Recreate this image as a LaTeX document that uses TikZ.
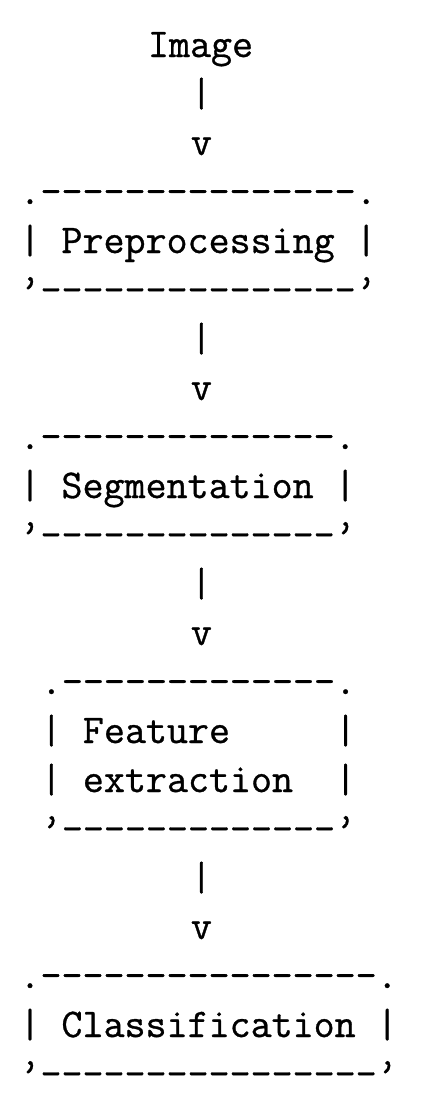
\documentclass[tikz,border=0pt]{standalone}
\usepackage{fontspec}
\setmonofont[FakeBold=0.8]{Latin Modern Mono}
\newlength{\du}
\setlength{\du}{0.5pt}
\newcommand{\boxfloor}[1]{’\smash{\raisebox{9.5pt}{#1}}’}
\tikzset{
  asciirow/.style={anchor=base west, inner sep=0pt, outer sep=0pt,
    font=\ttfamily\fontsize{20.4pt}{24.5pt}\selectfont},
}
\begin{document}
\begin{tikzpicture}
\pgftransformxscale{1.000000}
\pgftransformyscale{-1.000000}
\useasboundingbox (0\du,0\du) rectangle (422\du,1098\du);
% input
\node[asciirow] (image) at (148.0\du,57.0\du){Image};
\node[asciirow] (bar1) at (190.9\du,106.0\du){|};
\node[asciirow] (tip1) at (190.9\du,155.0\du){v};
% preprocessing box
\node[asciirow] (pretop) at (19.5\du,204.0\du){.---------------.};
\node[asciirow] (pre) at (19.5\du,253.0\du){| Preprocessing |};
\node[asciirow] (prebot) at (19.5\du,302.0\du){\boxfloor{\_\_\_\_\_\_\_\_\_\_\_\_\_\_\_}};
\node[asciirow] (bar2) at (190.9\du,351.0\du){|};
\node[asciirow] (tip2) at (190.9\du,400.0\du){v};
% segmentation box
\node[asciirow] (segtop) at (19.5\du,449.0\du){.--------------.};
\node[asciirow] (seg) at (19.5\du,498.0\du){| Segmentation |};
\node[asciirow] (segbot) at (19.5\du,547.0\du){\boxfloor{\_\_\_\_\_\_\_\_\_\_\_\_\_\_}};
\node[asciirow] (bar3) at (190.9\du,596.0\du){|};
\node[asciirow] (tip3) at (190.9\du,645.0\du){v};
% feature extraction box
\node[asciirow] (feattop) at (40.9\du,694.0\du){.-------------.};
\node[asciirow] (feat) at (40.9\du,743.0\du){|~Feature~~~~~|};
\node[asciirow] (extr) at (40.9\du,792.0\du){|~extraction~~|};
\node[asciirow] (featbot) at (40.9\du,841.0\du){\boxfloor{\_\_\_\_\_\_\_\_\_\_\_\_\_}};
\node[asciirow] (bar4) at (190.9\du,890.0\du){|};
\node[asciirow] (tip4) at (190.9\du,939.0\du){v};
% classification box
\node[asciirow] (clstop) at (19.5\du,988.0\du){.----------------.};
\node[asciirow] (cls) at (19.5\du,1037.0\du){| Classification |};
\node[asciirow] (clsbot) at (19.5\du,1086.0\du){\boxfloor{\_\_\_\_\_\_\_\_\_\_\_\_\_\_\_\_}};
\end{tikzpicture}
\end{document}
